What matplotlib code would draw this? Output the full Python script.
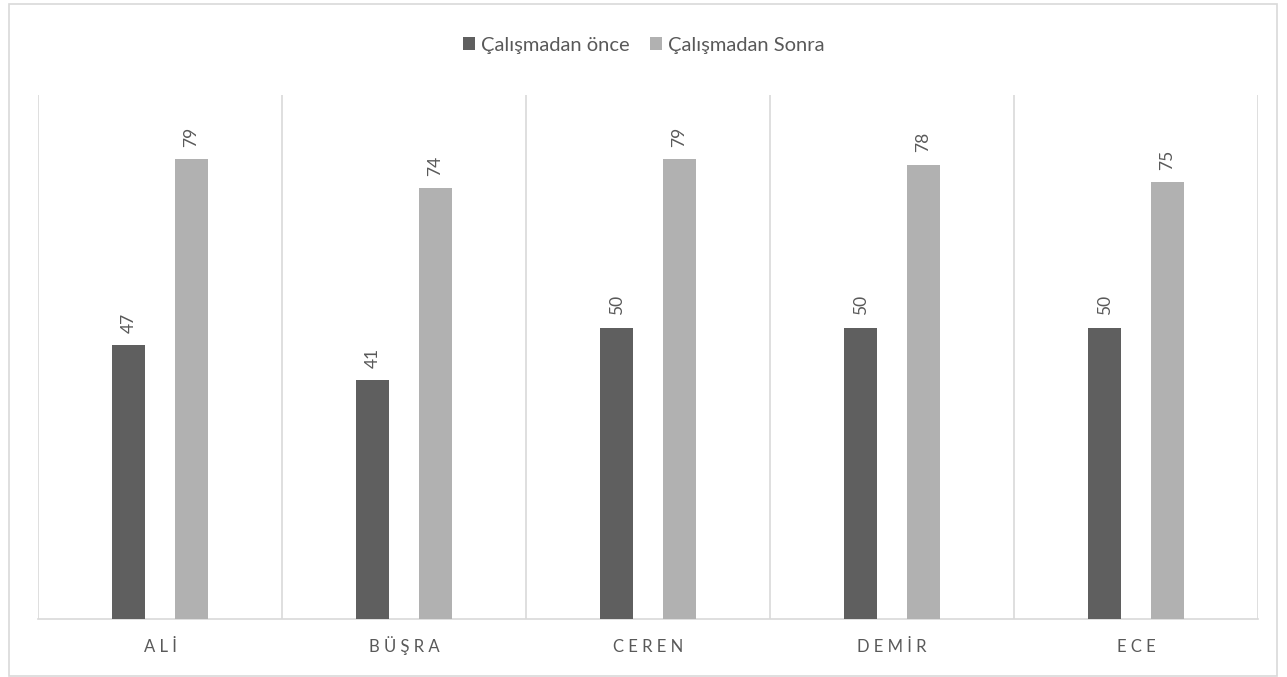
import numpy as np
import matplotlib.pyplot as plt
from matplotlib.patches import Rectangle

plt.rcParams['font.family'] = ['Lato', 'DejaVu Sans']

names = ['ALİ', 'BÜŞRA', 'CEREN', 'DEMİR', 'ECE']
before = [47, 41, 50, 50, 50]
after = [79, 74, 79, 78, 75]
series_names = ['Çalışmadan önce', 'Çalışmadan Sonra']

DARK = '#5f5f5f'
LIGHT = '#b1b1b1'
GRID = '#d9d9d9'
TEXT = '#595959'

fig = plt.figure(figsize=(12.87, 6.77), dpi=100)
ax = fig.add_axes([38 / 1287, 58 / 677, 1220 / 1287, 524 / 677])

x = np.arange(len(names))
w = 0.135
off = 0.129
b1 = ax.bar(x - off, before, w, color=DARK, label=series_names[0], zorder=3)
b2 = ax.bar(x + off, after, w, color=LIGHT, label=series_names[1], zorder=3)

for bars in (b1, b2):
    for r in bars:
        ax.annotate(f'{r.get_height():.0f}', (r.get_x() + r.get_width() / 2, r.get_height()),
                    xytext=(0, 9), textcoords='offset points', rotation=90,
                    ha='center', va='bottom', fontsize=12.5, color=TEXT)

ax.set_xlim(-0.5, len(names) - 0.5)
ax.set_ylim(0, 90)
for b in np.arange(len(names) + 1) - 0.5:
    ax.axvline(b, color=GRID, lw=1.2, zorder=1)

ax.set_xticks(x)
ax.set_xticklabels([' '.join(n) for n in names], fontsize=12, color=TEXT, va='baseline')
ax.tick_params(axis='x', length=0, pad=24)
ax.set_yticks([])
for s in ['top', 'right', 'left']:
    ax.spines[s].set_visible(False)
ax.spines['bottom'].set_color(GRID)
ax.spines['bottom'].set_linewidth(1.2)

leg = fig.legend(loc='center', bbox_to_anchor=(0.5, 1 - 45 / 677), ncol=2, frameon=False,
                 fontsize=14.5, handlelength=0.6, handleheight=0.6, handletextpad=0.3,
                 columnspacing=1.0)
for t in leg.get_texts():
    t.set_color(TEXT)

fig.patches.append(Rectangle((9 / 1287, 1 / 677), 1268 / 1287, 672 / 677, transform=fig.transFigure,
                             fill=False, edgecolor=GRID, lw=1.2))

plt.savefig('out.png', dpi=100)
